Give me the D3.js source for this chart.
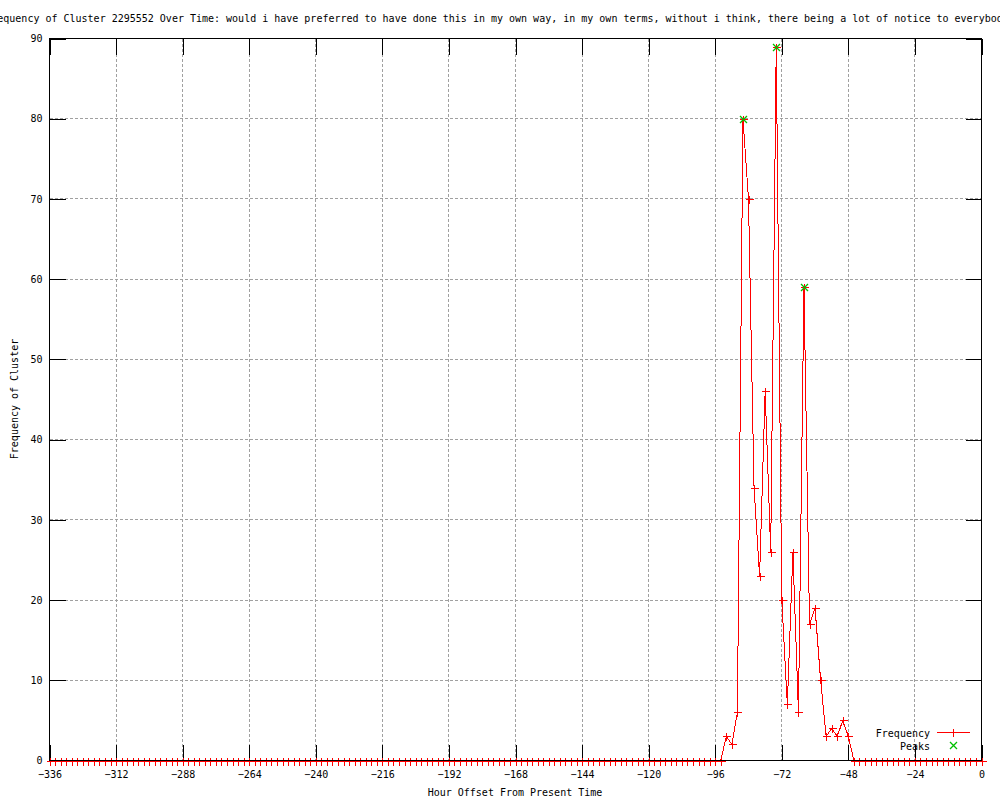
<!DOCTYPE html>
<html>
<head>
<meta charset="utf-8">
<script src="https://cdn.jsdelivr.net/npm/d3@7"></script>
<style>
  html, body { margin: 0; padding: 0; background: #fff; overflow: hidden; }
  text { font-family: "DejaVu Sans Mono", monospace; font-size: 10px; fill: #000; }
</style>
</head>
<body>
<svg id="chart" width="1000" height="800"></svg>
<script>
// ---- data ----
const titleText = "Frequency of Cluster 2295552 Over Time: would i have preferred to have done this in my own way, in my own terms, without i think, there being a lot of notice to everybody";
const xLabel = "Hour Offset From Present Time";
const yLabel = "Frequency of Cluster";
const xTicks = [-336, -312, -288, -264, -240, -216, -192, -168, -144, -120, -96, -72, -48, -24, 0];
const yTicks = [0, 10, 20, 30, 40, 50, 60, 70, 80, 90];
// hours sampled every 2 hours from -336 to 0
const hours = d3.range(-336, 1, 2);
// frequency per sample (169 values, rows of 10 samples = 20 hours)
const frequency = [
  0,0,0,0,0,0,0,0,0,0,   // -336 .. -318
  0,0,0,0,0,0,0,0,0,0,   // -316 .. -298
  0,0,0,0,0,0,0,0,0,0,   // -296 .. -278
  0,0,0,0,0,0,0,0,0,0,   // -276 .. -258
  0,0,0,0,0,0,0,0,0,0,   // -256 .. -238
  0,0,0,0,0,0,0,0,0,0,   // -236 .. -218
  0,0,0,0,0,0,0,0,0,0,   // -216 .. -198
  0,0,0,0,0,0,0,0,0,0,   // -196 .. -178
  0,0,0,0,0,0,0,0,0,0,   // -176 .. -158
  0,0,0,0,0,0,0,0,0,0,   // -156 .. -138
  0,0,0,0,0,0,0,0,0,0,   // -136 .. -118
  0,0,0,0,0,0,0,0,0,0,   // -116 .. -98
  0,0,3,2,6,80,70,34,23,46,   // -96 .. -78
  26,89,20,7,26,6,59,17,19,10, // -76 .. -58
  3,4,3,5,3,0,0,0,0,0,   // -56 .. -38
  0,0,0,0,0,0,0,0,0,0,   // -36 .. -18
  0,0,0,0,0,0,0,0,0      // -16 .. 0
];
const peakHours = [-86, -74, -64];
const peakValues = [80, 89, 59];
const seriesNames = ["Frequency", "Peaks"];
const colors = ["#ff0000", "#00c000"];

// ---- layout ----
const svg = d3.select("#chart");
const pLeft = 49.5, pRight = 981.5, pTop = 38.5, pBottom = 760.5;
const x = d3.scaleLinear().domain([-336, 0]).range([pLeft, pRight]);
const y = d3.scaleLinear().domain([0, 90]).range([pBottom, pTop]);

// grid
const grid = svg.append("g").attr("stroke", "#a0a0a0").attr("stroke-width", 1)
  .attr("stroke-dasharray", "3,2").attr("shape-rendering", "crispEdges");
grid.selectAll("line.v").data(xTicks).join("line").attr("class", "v")
  .attr("x1", d => x(d)).attr("x2", d => x(d)).attr("y1", pTop).attr("y2", pBottom);
grid.selectAll("line.h").data(yTicks).join("line").attr("class", "h")
  .attr("x1", pLeft).attr("x2", pRight).attr("y1", d => y(d)).attr("y2", d => y(d));

// axes
function styleAxis(g) {
  g.select(".domain").remove();
  g.selectAll(".tick line").attr("stroke", "#000").attr("shape-rendering", "crispEdges");
  g.selectAll("text").style("font-family", "'DejaVu Sans Mono', monospace").style("font-size", "10px").attr("fill", "#000");
}
svg.append("g").attr("transform", `translate(0,${pBottom})`)
  .call(d3.axisBottom(x).tickValues(xTicks).tickSizeInner(-16).tickSizeOuter(0).tickPadding(10).tickFormat(d3.format("d")))
  .call(styleAxis);
svg.append("g").attr("transform", `translate(0,${pTop})`)
  .call(d3.axisTop(x).tickValues(xTicks).tickSizeInner(-16).tickSizeOuter(0).tickFormat(""))
  .call(styleAxis);
svg.append("g").attr("transform", `translate(${pLeft},0)`)
  .call(d3.axisLeft(y).tickValues(yTicks).tickSizeInner(-16).tickSizeOuter(0).tickPadding(7).tickFormat(d3.format("d")))
  .call(styleAxis);
svg.append("g").attr("transform", `translate(${pRight},0)`)
  .call(d3.axisRight(y).tickValues(yTicks).tickSizeInner(-16).tickSizeOuter(0).tickFormat(""))
  .call(styleAxis);

// data line
const pts = hours.map((h, i) => [h, frequency[i]]);
const line = d3.line().x(d => x(d[0])).y(d => y(d[1]));
svg.append("path").datum(pts).attr("d", line).attr("fill", "none")
  .attr("stroke", colors[0]).attr("stroke-width", 1).attr("shape-rendering", "crispEdges");

// plus markers
const plus = (cx, cy, r) => `M${cx - r},${cy}H${cx + r}M${cx},${cy - r}V${cy + r}`;
svg.append("g").selectAll("path").data(pts).join("path")
  .attr("d", d => plus(Math.round(x(d[0])) + 0.5, Math.round(y(d[1])) + 0.5, 4))
  .attr("stroke", colors[0]).attr("stroke-width", 1).attr("fill", "none").attr("shape-rendering", "crispEdges");

// peaks (x markers)
const cross = (cx, cy, r) => `M${cx - r},${cy - r}L${cx + r},${cy + r}M${cx - r},${cy + r}L${cx + r},${cy - r}`;
svg.append("g").selectAll("path").data(peakHours).join("path")
  .attr("d", (d, i) => cross(Math.round(x(d)) + 0.5, Math.round(y(peakValues[i])) + 0.5, 3.5))
  .attr("stroke", colors[1]).attr("stroke-width", 1.3).attr("fill", "none");

// border
svg.append("rect").attr("x", pLeft).attr("y", pTop).attr("width", pRight - pLeft).attr("height", pBottom - pTop)
  .attr("fill", "none").attr("stroke", "#000").attr("stroke-width", 1).attr("shape-rendering", "crispEdges");

// title & labels
svg.append("text").attr("x", 497).attr("y", 22).attr("text-anchor", "middle").text(titleText);
svg.append("text").attr("x", 515).attr("y", 796).attr("text-anchor", "middle").text(xLabel);
svg.append("text").attr("transform", `translate(18,399) rotate(-90)`).attr("text-anchor", "middle").text(yLabel);

// legend
const leg = svg.append("g");
leg.append("text").attr("x", 930).attr("y", 737).attr("text-anchor", "end").text(seriesNames[0]);
leg.append("line").attr("x1", 937).attr("x2", 970).attr("y1", 732.5).attr("y2", 732.5)
  .attr("stroke", colors[0]).attr("shape-rendering", "crispEdges");
leg.append("path").attr("d", plus(953.5, 732.5, 4)).attr("stroke", colors[0]).attr("shape-rendering", "crispEdges");
leg.append("text").attr("x", 930).attr("y", 750).attr("text-anchor", "end").text(seriesNames[1]);
leg.append("path").attr("d", cross(953.5, 745.5, 3.5)).attr("stroke", colors[1]).attr("stroke-width", 1.3).attr("fill", "none");
</script>
</body>
</html>
